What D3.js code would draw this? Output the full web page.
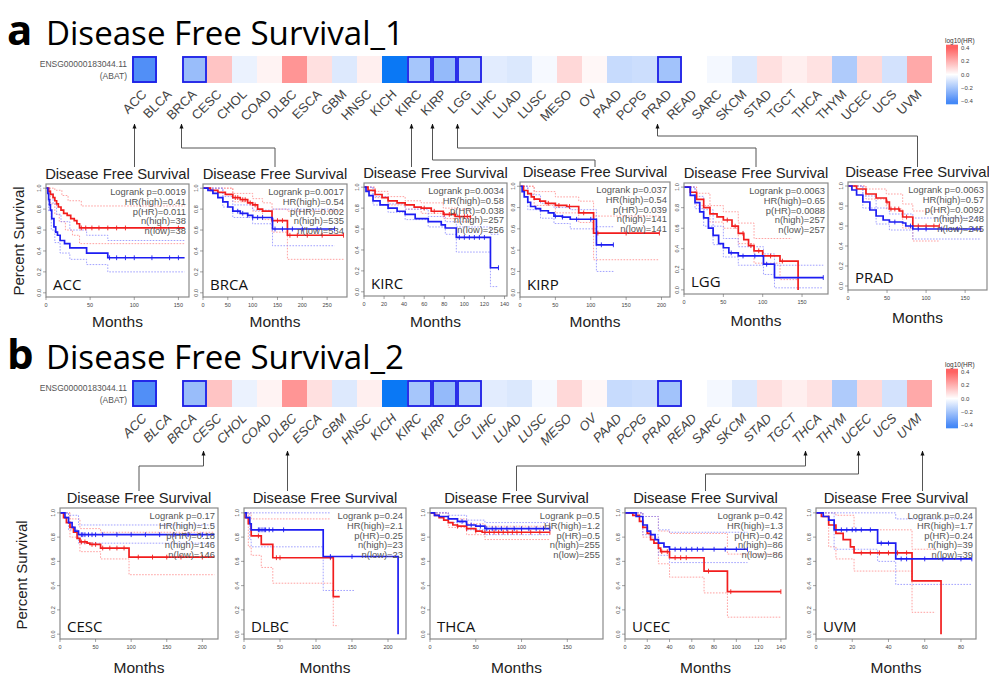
<!DOCTYPE html>
<html>
<head>
<meta charset="utf-8">
<script src="https://cdn.jsdelivr.net/npm/d3@7"></script>
<style>
  body { margin: 0; background: #fff; }
  svg { display: block; }
</style>
</head>
<body>
<div class="chart-container"></div>
<script>
const cancers = ['ACC','BLCA','BRCA','CESC','CHOL','COAD','DLBC','ESCA','GBM','HNSC','KICH','KIRC','KIRP','LGG','LIHC','LUAD','LUSC','MESO','OV','PAAD','PCPG','PRAD','READ','SARC','SKCM','STAD','TGCT','THCA','THYM','UCEC','UCS','UVM'];
const log10HR = [-0.39,null,-0.23,0.15,-0.045,0.03,0.27,0.08,-0.076,0.04,-0.62,-0.2,-0.24,-0.17,-0.065,-0.08,-0.02,0.1,0.02,-0.125,-0.115,-0.21,null,-0.025,-0.076,0.08,0.04,0.075,-0.18,0.095,-0.1,0.22];
const sigCancers = ['ACC','BRCA','KIRC','KIRP','LGG','PRAD'];
const legendTicks = [0.4, 0.2, 0, -0.2, -0.4];

// KM curves: [months, survival]; hi = red (high), lo = blue (low)
const ACC_hi = [[0,1],[3,0.97],[5,0.94],[8,0.91],[10,0.88],[12,0.85],[14,0.82],[17,0.79],[20,0.76],[24,0.74],[28,0.71],[32,0.69],[35,0.66],[38,0.62],[157,0.62]];
const ACC_lo = [[0,1],[2,0.95],[3,0.89],[4,0.84],[5,0.79],[6.5,0.71],[9,0.63],[11,0.58],[13,0.55],[16,0.5],[21,0.47],[27,0.43],[46,0.38],[70,0.335],[157,0.335]];
const ACC_hiU = [[0,1],[10,0.98],[18,0.93],[25,0.88],[40,0.83],[157,0.83]];
const ACC_hiL = [[0,1],[5,0.85],[10,0.75],[15,0.68],[22,0.6],[30,0.55],[38,0.47],[157,0.47]];
const ACC_loU = [[0,1],[4,0.95],[8,0.85],[12,0.75],[17,0.68],[27,0.6],[46,0.55],[70,0.5],[157,0.5]];
const ACC_loL = [[0,1],[3,0.78],[6,0.6],[10,0.48],[16,0.38],[27,0.32],[46,0.27],[70,0.2],[157,0.2]];
const ACC_hiC = [40,45,52,60,70,80,90,130,150];
const ACC_loC = [72,80,90,100,120,140,150];
const ACC_stats = ['Logrank p=0.0019','HR(high)=0.41','p(HR)=0.011','n(high)=38','n(low)=38'];

const BRCA_hi = [[0,1],[15,0.98],[30,0.96],[45,0.94],[60,0.91],[75,0.89],[90,0.86],[100,0.84],[110,0.8],[120,0.78],[139,0.69],[170,0.55],[283,0.55]];
const BRCA_lo = [[0,1],[10,0.98],[20,0.95],[30,0.91],[40,0.87],[50,0.82],[60,0.78],[75,0.76],[90,0.74],[100,0.72],[139,0.71],[140,0.61],[265,0.61]];
const BRCA_hiU = [[0,1],[60,0.95],[100,0.9],[120,0.86],[139,0.8],[170,0.78],[283,0.78]];
const BRCA_hiL = [[0,1],[60,0.87],[100,0.78],[120,0.7],[139,0.58],[170,0.32],[283,0.32]];
const BRCA_loU = [[0,1],[40,0.92],[60,0.84],[100,0.79],[140,0.8],[265,0.8]];
const BRCA_loL = [[0,1],[40,0.82],[60,0.72],[100,0.66],[140,0.45],[265,0.45]];
const BRCA_hiC = [65,70,80,85,95,105,150,160,175,190,210,240,283];
const BRCA_loC = [70,80,90,100,110,120,145,160,180,200,230,265];
const BRCA_stats = ['Logrank p=0.0017','HR(high)=0.54','p(HR)=0.002','n(high)=535','n(low)=534'];

const KIRC_hi = [[0,1],[4,0.97],[11,0.93],[18,0.9],[24,0.87],[33,0.85],[41,0.83],[50,0.81],[57,0.8],[67,0.77],[79,0.74],[91,0.72],[106,0.71]];
const KIRC_lo = [[0,1],[2,0.96],[5,0.92],[9,0.87],[16,0.83],[24,0.8],[33,0.77],[41,0.74],[51,0.7],[64,0.67],[77,0.64],[81,0.61],[92,0.52],[126,0.23],[134,0.23]];
const KIRC_hiU = [[0,1],[11,0.96],[24,0.91],[41,0.87],[57,0.85],[79,0.8],[91,0.79],[106,0.78]];
const KIRC_hiL = [[0,1],[11,0.9],[24,0.83],[41,0.79],[57,0.75],[79,0.7],[91,0.67],[106,0.65]];
const KIRC_loU = [[0,1],[9,0.91],[24,0.84],[41,0.79],[64,0.72],[81,0.67],[92,0.62],[126,0.55],[134,0.55]];
const KIRC_loL = [[0,1],[9,0.83],[24,0.76],[41,0.69],[64,0.62],[81,0.55],[92,0.38],[126,0.05],[134,0.05]];
const KIRC_hiC = [60,70,80,85,90,95,100,103,106];
const KIRC_loC = [95,100,105,110,115,120,134];
const KIRC_stats = ['Logrank p=0.0034','HR(high)=0.58','p(HR)=0.038','n(high)=257','n(low)=256'];

const KIRP_hi = [[0,1],[5,0.96],[11,0.93],[16,0.9],[20,0.88],[28,0.86],[36,0.84],[50,0.82],[66,0.81],[83,0.75],[104,0.56],[197,0.56]];
const KIRP_lo = [[0,1],[3,0.95],[6,0.9],[11,0.85],[15,0.81],[22,0.79],[29,0.77],[40,0.75],[48,0.72],[60,0.71],[71,0.69],[108,0.45],[132,0.45]];
const KIRP_hiU = [[0,1],[20,0.95],[50,0.9],[83,0.86],[104,0.72],[197,0.72]];
const KIRP_hiL = [[0,1],[20,0.82],[50,0.75],[83,0.66],[104,0.31],[197,0.31]];
const KIRP_loU = [[0,1],[11,0.92],[29,0.84],[48,0.8],[71,0.78],[108,0.62],[132,0.62]];
const KIRP_loL = [[0,1],[11,0.78],[29,0.7],[48,0.65],[71,0.6],[108,0.2],[132,0.2]];
const KIRP_hiC = [40,55,70,90,110,150,197];
const KIRP_loC = [50,60,80,100,115,132];
const KIRP_stats = ['Logrank p=0.037','HR(high)=0.54','p(HR)=0.039','n(high)=141','n(low)=141'];

const LGG_hi = [[0,1],[8,0.95],[16,0.88],[25,0.8],[33,0.74],[42,0.71],[50,0.68],[61,0.62],[69,0.55],[76,0.49],[82,0.43],[89,0.38],[100,0.33],[122,0.28],[145,0]];
const LGG_lo = [[0,1],[8,0.92],[14,0.85],[20,0.76],[25,0.7],[31,0.6],[37,0.53],[44,0.45],[50,0.41],[57,0.36],[69,0.33],[101,0.25],[115,0.12],[177,0.12]];
const LGG_hiU = [[0,1],[16,0.94],[33,0.82],[50,0.76],[69,0.65],[89,0.5],[137,0.5]];
const LGG_hiL = [[0,1],[16,0.82],[33,0.66],[50,0.6],[69,0.45],[89,0.26],[122,0.1],[145,0.1]];
const LGG_loU = [[0,1],[14,0.91],[25,0.78],[37,0.62],[50,0.5],[69,0.42],[101,0.35],[115,0.24],[177,0.24]];
const LGG_loL = [[0,1],[14,0.79],[25,0.62],[37,0.44],[50,0.32],[69,0.24],[101,0.15],[115,0.02],[177,0.02]];
const LGG_hiC = [55,65,75,85,95,110,125];
const LGG_loC = [60,75,90,105,177];
const LGG_stats = ['Logrank p=0.0063','HR(high)=0.65','p(HR)=0.0088','n(high)=257','n(low)=257'];

const PRAD_hi = [[0,1],[11,0.97],[23,0.92],[36,0.88],[49,0.84],[53,0.77],[66,0.75],[70,0.69],[83,0.6],[117,0.6]];
const PRAD_lo = [[0,1],[5,0.96],[11,0.91],[19,0.84],[28,0.76],[36,0.7],[45,0.66],[53,0.64],[70,0.63],[74,0.6],[83,0.57],[170,0.57]];
const PRAD_hiU = [[0,1],[23,0.97],[49,0.92],[70,0.82],[83,0.75],[117,0.75]];
const PRAD_hiL = [[0,1],[23,0.87],[49,0.77],[70,0.58],[83,0.45],[117,0.45]];
const PRAD_loU = [[0,1],[19,0.9],[36,0.78],[53,0.72],[83,0.68],[170,0.68]];
const PRAD_loL = [[0,1],[19,0.78],[36,0.62],[53,0.56],[83,0.47],[170,0.47]];
const PRAD_hiC = [50,55,60,65,75,90,100,110,117];
const PRAD_loC = [60,80,90,100,120,140,160,170];
const PRAD_stats = ['Logrank p=0.0063','HR(high)=0.57','p(HR)=0.0092','n(high)=248','n(low)=245'];

const CESC_hi = [[0,1],[5,0.96],[9,0.92],[14,0.88],[19,0.84],[24,0.79],[28,0.76],[38,0.75],[42,0.74],[57,0.71],[97,0.635],[217,0.635]];
const CESC_lo = [[0,1],[7,0.96],[12,0.92],[17,0.88],[21,0.85],[26,0.82],[217,0.82]];
const CESC_hiU = [[0,1],[14,0.95],[28,0.87],[57,0.84],[217,0.84]];
const CESC_hiL = [[0,1],[14,0.8],[28,0.68],[57,0.62],[97,0.49],[217,0.49]];
const CESC_loU = [[0,1],[12,0.98],[26,0.9],[217,0.9]];
const CESC_loL = [[0,1],[12,0.86],[26,0.75],[217,0.75]];
const CESC_hiC = [30,35,45,50,60,70,80,90,110,130,150,170,200];
const CESC_loC = [30,32,35,40,45,50,60,80,100,120,140,160,180,200];
const CESC_stats = ['Logrank p=0.17','HR(high)=1.5','p(HR)=0.18','n(high)=146','n(low)=146'];

const DLBC_hi = [[0,1],[1,0.96],[6,0.91],[10,0.81],[24,0.74],[40,0.63],[124,0.31],[133,0.31]];
const DLBC_lo = [[0,1],[3,0.96],[8,0.91],[10,0.86],[110,0.64],[214,0]];
const DLBC_hiU = [[0,1],[10,0.95],[119,0.95]];
const DLBC_hiL = [[0,1],[6,0.72],[10,0.65],[24,0.55],[40,0.42],[124,0.07],[131,0.07]];
const DLBC_loU = [[0,1],[119,1]];
const DLBC_loL = [[0,1],[8,0.78],[10,0.72],[110,0.36],[154,0.36]];
const DLBC_hiC = [20,45,50,120];
const DLBC_loC = [20,22,25,28,30,35,40,55,120,150];
const DLBC_stats = ['Logrank p=0.24','HR(high)=2.1','p(HR)=0.25','n(high)=23','n(low)=23'];

const THCA_hi = [[0,1],[5,0.98],[10,0.96],[15,0.94],[20,0.92],[25,0.9],[30,0.89],[40,0.87],[50,0.85],[57,0.84],[131,0.84]];
const THCA_lo = [[0,1],[5,0.98],[10,0.97],[20,0.95],[30,0.93],[40,0.9],[50,0.89],[60,0.87],[131,0.87]];
const THCA_hiU = [[0,1],[20,0.95],[40,0.91],[60,0.89],[131,0.89]];
const THCA_hiL = [[0,1],[20,0.88],[40,0.82],[60,0.78],[131,0.78]];
const THCA_loU = [[0,1],[20,0.98],[40,0.94],[60,0.92],[131,0.92]];
const THCA_loL = [[0,1],[20,0.92],[40,0.86],[60,0.82],[131,0.82]];
const THCA_hiC = [30,40,50,60,65,70,75,80,85,90,95,100,110,120,131];
const THCA_loC = [35,45,55,62,68,72,78,84,92,100,108,116,124,131];
const THCA_stats = ['Logrank p=0.5','HR(high)=1.2','p(HR)=0.5','n(high)=255','n(low)=255'];

const UCEC_hi = [[0,1],[7,0.98],[13,0.93],[16,0.88],[20,0.83],[23,0.78],[26,0.75],[30,0.71],[32,0.68],[40,0.63],[71,0.52],[92,0.35],[140,0.35]];
const UCEC_lo = [[0,1],[10,0.97],[16,0.9],[20,0.85],[23,0.82],[27,0.78],[30,0.75],[35,0.72],[40,0.7],[110,0.7]];
const UCEC_hiU = [[0,1],[16,0.97],[30,0.85],[40,0.83],[71,0.83],[92,0.66],[140,0.66]];
const UCEC_hiL = [[0,1],[16,0.8],[30,0.58],[40,0.47],[71,0.34],[92,0.14],[140,0.14]];
const UCEC_loU = [[0,1],[16,0.97],[30,0.86],[40,0.84],[110,0.84]];
const UCEC_loL = [[0,1],[16,0.82],[30,0.65],[40,0.59],[110,0.59]];
const UCEC_hiC = [33,38,45,50,55,75,95,140];
const UCEC_loC = [40,45,50,55,60,65,70,80,90,100,110];
const UCEC_stats = ['Logrank p=0.42','HR(high)=1.3','p(HR)=0.42','n(high)=86','n(low)=86'];

const UVM_hi = [[0,1],[3,0.97],[7,0.9],[11,0.83],[15,0.78],[19,0.72],[21,0.67],[53,0.44],[69,0]];
const UVM_lo = [[0,1],[4,0.97],[7,0.94],[10,0.86],[34,0.75],[44,0.62],[86,0.62]];
const UVM_hiU = [[0,1],[11,0.98],[21,0.86],[53,0.7],[66,0.7]];
const UVM_hiL = [[0,1],[7,0.72],[11,0.62],[21,0.52],[53,0.18],[66,0.18]];
const UVM_loU = [[0,1],[44,0.95],[86,0.95]];
const UVM_loL = [[0,1],[10,0.7],[34,0.6],[44,0.41],[86,0.41]];
const UVM_hiC = [25,30,35,40,45,50];
const UVM_loC = [14,17,20,22,25,30,36,40,47,50,60,70,80,86];
const UVM_stats = ['Logrank p=0.24','HR(high)=1.7','p(HR)=0.24','n(high)=39','n(low)=39'];

const ticks50_150 = [0,50,100,150];
const ticks50_250 = [0,50,100,150,200,250];
const ticks50_200 = [0,50,100,150,200];
const ticks20_140 = [0,20,40,60,80,100,120,140];
const ticks20_80 = [0,20,40,60,80];
const yTicks = [0,0.2,0.4,0.6,0.8,1.0];

// layout
const width = 989, height = 675;
const heatLeft = 132, heatRight = 932, heatH = 27;

const panelsA = [
  {name:'ACC', hi:ACC_hi, lo:ACC_lo, ci:[ACC_hiU,ACC_hiL,ACC_loU,ACC_loL], cens:[ACC_hiC,ACC_loC], stats:ACC_stats, xTicks:ticks50_150, xMax:162, box:[46,189,184,297], monthsY:327},
  {name:'BRCA', hi:BRCA_hi, lo:BRCA_lo, ci:[BRCA_hiU,BRCA_hiL,BRCA_loU,BRCA_loL], cens:[BRCA_hiC,BRCA_loC], stats:BRCA_stats, xTicks:ticks50_250, xMax:290, box:[203,347,184,297], monthsY:327},
  {name:'KIRC', hi:KIRC_hi, lo:KIRC_lo, ci:[KIRC_hiU,KIRC_hiL,KIRC_loU,KIRC_loL], cens:[KIRC_hiC,KIRC_loC], stats:KIRC_stats, xTicks:ticks20_140, xMax:142.5, box:[364,507,183,296], monthsY:327},
  {name:'KIRP', hi:KIRP_hi, lo:KIRP_lo, ci:[KIRP_hiU,KIRP_hiL,KIRP_loU,KIRP_loL], cens:[KIRP_hiC,KIRP_loC], stats:KIRP_stats, xTicks:ticks50_200, xMax:212, box:[520,670,182,297], monthsY:327},
  {name:'LGG', hi:LGG_hi, lo:LGG_lo, ci:[LGG_hiU,LGG_hiL,LGG_loU,LGG_loL], cens:[LGG_hiC,LGG_loC], stats:LGG_stats, xTicks:ticks50_150, xMax:183, box:[684,828,183,294], monthsY:326},
  {name:'PRAD', hi:PRAD_hi, lo:PRAD_lo, ci:[PRAD_hiU,PRAD_hiL,PRAD_loU,PRAD_loL], cens:[PRAD_hiC,PRAD_loC], stats:PRAD_stats, xTicks:ticks50_150, xMax:178, box:[848,987,182,290], monthsY:323}
];
const panelsB = [
  {name:'CESC', hi:CESC_hi, lo:CESC_lo, ci:[CESC_hiU,CESC_hiL,CESC_loU,CESC_loL], cens:[CESC_hiC,CESC_loC], stats:CESC_stats, xTicks:ticks50_200, xMax:222, box:[60,218,508,639], monthsY:673},
  {name:'DLBC', hi:DLBC_hi, lo:DLBC_lo, ci:[DLBC_hiU,DLBC_hiL,DLBC_loU,DLBC_loL], cens:[DLBC_hiC,DLBC_loC], stats:DLBC_stats, xTicks:ticks50_200, xMax:225, box:[244,406,508,639], monthsY:673},
  {name:'THCA', hi:THCA_hi, lo:THCA_lo, ci:[THCA_hiU,THCA_hiL,THCA_loU,THCA_loL], cens:[THCA_hiC,THCA_loC], stats:THCA_stats, xTicks:ticks50_150, xMax:189, box:[430,603,508,639], monthsY:673},
  {name:'UCEC', hi:UCEC_hi, lo:UCEC_lo, ci:[UCEC_hiU,UCEC_hiL,UCEC_loU,UCEC_loL], cens:[UCEC_hiC,UCEC_loC], stats:UCEC_stats, xTicks:ticks20_140, xMax:144.6, box:[625,786,508,639], monthsY:673},
  {name:'UVM', hi:UVM_hi, lo:UVM_lo, ci:[UVM_hiU,UVM_hiL,UVM_loU,UVM_loL], cens:[UVM_hiC,UVM_loC], stats:UVM_stats, xTicks:ticks20_80, xMax:88.3, box:[816,976,508,639], monthsY:673}
];

// arrows from heatmap labels down to panels
const linksA = [
  {cat:'ACC', panel:'ACC', dx:-10, elbow:null},
  {cat:'BRCA', panel:'BRCA', dx:-13, elbow:148},
  {cat:'KIRC', panel:'KIRC', dx:-8, elbow:null},
  {cat:'KIRP', panel:'KIRP', dx:-12, elbow:160},
  {cat:'LGG', panel:'LGG', dx:-12, elbow:148},
  {cat:'PRAD', panel:'PRAD', dx:-12, elbow:136}
];
const linksB = [
  {cat:'CESC', panel:'CESC', dx:-16, elbow:466},
  {cat:'DLBC', panel:'DLBC', dx:-7, elbow:null},
  {cat:'THCA', panel:'THCA', dx:-14, elbow:466},
  {cat:'UCEC', panel:'UCEC', dx:-11, elbow:474},
  {cat:'UVM', panel:'UVM', dx:3, elbow:null}
];

const svg = d3.select('.chart-container').append('svg')
  .attr('width', width)
  .attr('height', height);
const defs = svg.append('defs');

defs.append('marker')
  .attr('id', 'arrow')
  .attr('viewBox', '0 0 10 10')
  .attr('refX', 9).attr('refY', 5)
  .attr('markerWidth', 5).attr('markerHeight', 5)
  .attr('orient', 'auto-start-reverse')
  .append('path').attr('d', 'M0,1L10,5L0,9Z').attr('fill', '#111');

const heatColor = d3.scaleLinear()
  .domain([-0.6, -0.4, 0, 0.4])
  .range(['#0a78f5', '#4d8cf7', '#ffffff', '#ff6262'])
  .clamp(true);

const grad = defs.append('linearGradient')
  .attr('id', 'legGrad').attr('x1', 0).attr('x2', 0).attr('y1', 0).attr('y2', 1);
d3.range(0.45, -0.451, -0.05).forEach((v, i, arr) => {
  grad.append('stop').attr('offset', i / (arr.length - 1)).attr('stop-color', heatColor(v));
});

const xBand = d3.scaleBand().domain(cancers).range([heatLeft, heatRight]);

function drawHeading(letter, text, baseY) {
  svg.append('text').attr('x', 7).attr('y', baseY)
    .attr('font-family', 'Open Sans, sans-serif').attr('font-weight', 'bold')
    .attr('font-size', 42).attr('fill', '#000').text(letter);
  svg.append('text').attr('x', 46).attr('y', baseY)
    .attr('font-family', 'Open Sans, sans-serif')
    .attr('font-size', 32).attr('fill', '#000')
    .attr('textLength', 358).attr('lengthAdjust', 'spacingAndGlyphs')
    .text(text);
}

function drawHeat(top, italic) {
  const g = svg.append('g');
  g.append('text').attr('x', 127).attr('y', top + 11).attr('text-anchor', 'end')
    .attr('font-family', 'Liberation Sans, Arial, sans-serif').attr('font-size', 8.5).attr('fill', '#555')
    .text('ENSG00000183044.11');
  g.append('text').attr('x', 127).attr('y', top + 23).attr('text-anchor', 'end')
    .attr('font-family', 'Liberation Sans, Arial, sans-serif').attr('font-size', 8.5).attr('fill', '#555')
    .text('(ABAT)');

  g.selectAll('rect.cell')
    .data(cancers.map((c, i) => ({c, v: log10HR[i]})))
    .enter().append('rect')
    .attr('class', 'cell')
    .attr('x', d => xBand(d.c)).attr('y', top)
    .attr('width', xBand.bandwidth()).attr('height', heatH)
    .attr('fill', d => d.v === null ? '#fff' : heatColor(d.v));

  g.selectAll('rect.sig')
    .data(sigCancers).enter().append('rect')
    .attr('class', 'sig')
    .attr('x', d => xBand(d) + 1).attr('y', top + 1)
    .attr('width', xBand.bandwidth() - 2).attr('height', heatH - 2)
    .attr('fill', 'none').attr('stroke', '#1f1fe6').attr('stroke-width', 1.8);

  g.selectAll('text.lab')
    .data(cancers).enter().append('text')
    .attr('class', 'lab')
    .attr('transform', d => `translate(${xBand(d) + xBand.bandwidth() / 2 + 3},${top + 39}) rotate(-45)`)
    .attr('text-anchor', 'end')
    .attr('font-family', 'Liberation Sans, Arial, sans-serif')
    .attr('font-size', 13).attr('fill', '#444')
    .attr('font-style', italic ? 'italic' : 'normal')
    .text(d => d);

  // colour legend
  const ly = d3.scaleLinear().domain([0.4, -0.4]).range([top - 8, top + 45]);
  g.append('text').attr('x', 945).attr('y', top - 13)
    .attr('font-family', 'Liberation Sans, Arial, sans-serif').attr('font-size', 6.5).attr('fill', '#333')
    .text('log10(HR)');
  g.append('rect').attr('x', 946).attr('y', ly(0.45)).attr('width', 12)
    .attr('height', ly(-0.45) - ly(0.45)).attr('fill', 'url(#legGrad)');
  g.selectAll('text.lt').data(legendTicks).enter().append('text')
    .attr('class', 'lt')
    .attr('x', 961).attr('y', d => ly(d) + 2)
    .attr('font-family', 'Liberation Sans, Arial, sans-serif').attr('font-size', 6).attr('fill', '#444')
    .text(d => d === 0 ? '0.0' : (d < 0 ? '\u2212' + Math.abs(d).toFixed(1) : d.toFixed(1)));
}

function stepAt(curve, t) {
  let s = curve[0][1];
  curve.forEach(p => { if (p[0] <= t) s = p[1]; });
  return s;
}

function drawPanel(p) {
  const [x0, x1, y0, y1] = p.box;
  const x = d3.scaleLinear().domain([0, p.xMax]).range([x0, x1]);
  const y = d3.scaleLinear().domain([-0.04, 1.04]).range([y1, y0]);
  const line = d3.line().x(d => x(d[0])).y(d => y(d[1])).curve(d3.curveStepAfter);
  const g = svg.append('g');

  defs.append('clipPath').attr('id', 'clip-' + p.name)
    .append('rect').attr('x', x0).attr('y', y0).attr('width', x1 - x0).attr('height', y1 - y0);
  const plot = g.append('g').attr('clip-path', `url(#clip-${p.name})`);

  p.ci.forEach((c, i) => {
    plot.append('path').attr('d', line(c)).attr('fill', 'none')
      .attr('stroke', i < 2 ? '#ff8a8a' : '#8a8aff')
      .attr('stroke-width', 0.8).attr('stroke-dasharray', '1.6,1.4');
  });

  [[p.hi, '#f21d1d', p.cens[0]], [p.lo, '#1d1df2', p.cens[1]]].forEach(([curve, col, cens]) => {
    plot.append('path').attr('d', line(curve)).attr('fill', 'none')
      .attr('stroke', col).attr('stroke-width', 1.7);
    plot.selectAll(null).data(cens).enter().append('line')
      .attr('x1', d => x(d)).attr('x2', d => x(d))
      .attr('y1', d => y(stepAt(curve, d)) - 2.4).attr('y2', d => y(stepAt(curve, d)) + 2.4)
      .attr('stroke', col).attr('stroke-width', 0.9);
  });

  g.append('rect').attr('x', x0).attr('y', y0).attr('width', x1 - x0).attr('height', y1 - y0)
    .attr('fill', 'none').attr('stroke', '#8a8a8a').attr('stroke-width', 1.2);

  // x ticks
  g.selectAll(null).data(p.xTicks).enter().append('line')
    .attr('x1', d => x(d)).attr('x2', d => x(d)).attr('y1', y1).attr('y2', y1 + 3)
    .attr('stroke', '#666').attr('stroke-width', 0.6);
  g.selectAll(null).data(p.xTicks).enter().append('text')
    .attr('x', d => x(d)).attr('y', y1 + 10).attr('text-anchor', 'middle')
    .attr('font-family', 'Liberation Sans, Arial, sans-serif').attr('font-size', 5.5).attr('fill', '#444')
    .text(d => d);
  // y ticks
  g.selectAll(null).data(yTicks).enter().append('line')
    .attr('x1', x0 - 3).attr('x2', x0).attr('y1', d => y(d)).attr('y2', d => y(d))
    .attr('stroke', '#666').attr('stroke-width', 0.6);
  g.selectAll(null).data(yTicks).enter().append('text')
    .attr('transform', d => `translate(${x0 - 5},${y(d)}) rotate(-90)`)
    .attr('text-anchor', 'middle')
    .attr('font-family', 'Liberation Sans, Arial, sans-serif').attr('font-size', 5.5).attr('fill', '#444')
    .text(d => d.toFixed(1));

  // statistics
  g.selectAll(null).data(p.stats).enter().append('text')
    .attr('x', x1 - 3).attr('y', (d, i) => y0 + 11 + i * 9.8)
    .attr('text-anchor', 'end')
    .attr('font-family', 'Liberation Sans, Arial, sans-serif').attr('font-size', 9.4).attr('fill', '#555')
    .text(d => d);

  g.append('text').attr('x', x0 + 7).attr('y', y1 - 7)
    .attr('font-family', 'Open Sans, sans-serif').attr('font-size', 15).attr('fill', '#111')
    .text(p.name);

  g.append('text').attr('x', (x0 + x1) / 2).attr('y', y0 - 5).attr('text-anchor', 'middle')
    .attr('font-family', 'Liberation Sans, Arial, sans-serif').attr('font-size', 14.8).attr('fill', '#222')
    .text('Disease Free Survival');

  g.append('text').attr('x', (x0 + x1) / 2).attr('y', p.monthsY).attr('text-anchor', 'middle')
    .attr('font-family', 'Liberation Sans, Arial, sans-serif').attr('font-size', 15.5).attr('fill', '#222')
    .text('Months');
}

function drawLinks(links, panels, tipY, endY) {
  links.forEach(l => {
    const p = panels.find(q => q.name === l.panel);
    const ax = xBand(l.cat) + xBand.bandwidth() / 2 + l.dx;
    const tx = (p.box[0] + p.box[1]) / 2;
    const pts = l.elbow === null
      ? [[ax, tipY], [ax, endY]]
      : [[ax, tipY], [ax, l.elbow], [tx, l.elbow], [tx, endY]];
    svg.append('path').attr('d', d3.line()(pts))
      .attr('fill', 'none').attr('stroke', '#555').attr('stroke-width', 1)
      .attr('marker-start', 'url(#arrow)');
  });
}

function yLabel(cx, cy) {
  svg.append('text').attr('transform', `translate(${cx},${cy}) rotate(-90)`)
    .attr('text-anchor', 'middle')
    .attr('font-family', 'Liberation Sans, Arial, sans-serif').attr('font-size', 15).attr('fill', '#222')
    .text('Percent Survival');
}

drawHeading('a', 'Disease Free Survival_1', 45);
drawHeat(56, false);
panelsA.forEach(drawPanel);
drawLinks(linksA, panelsA, 124, 167);
yLabel(24, 241);

drawHeading('b', 'Disease Free Survival_2', 369);
drawHeat(380, true);
panelsB.forEach(drawPanel);
drawLinks(linksB, panelsB, 451, 491);
yLabel(27, 575);
</script>
</body>
</html>
